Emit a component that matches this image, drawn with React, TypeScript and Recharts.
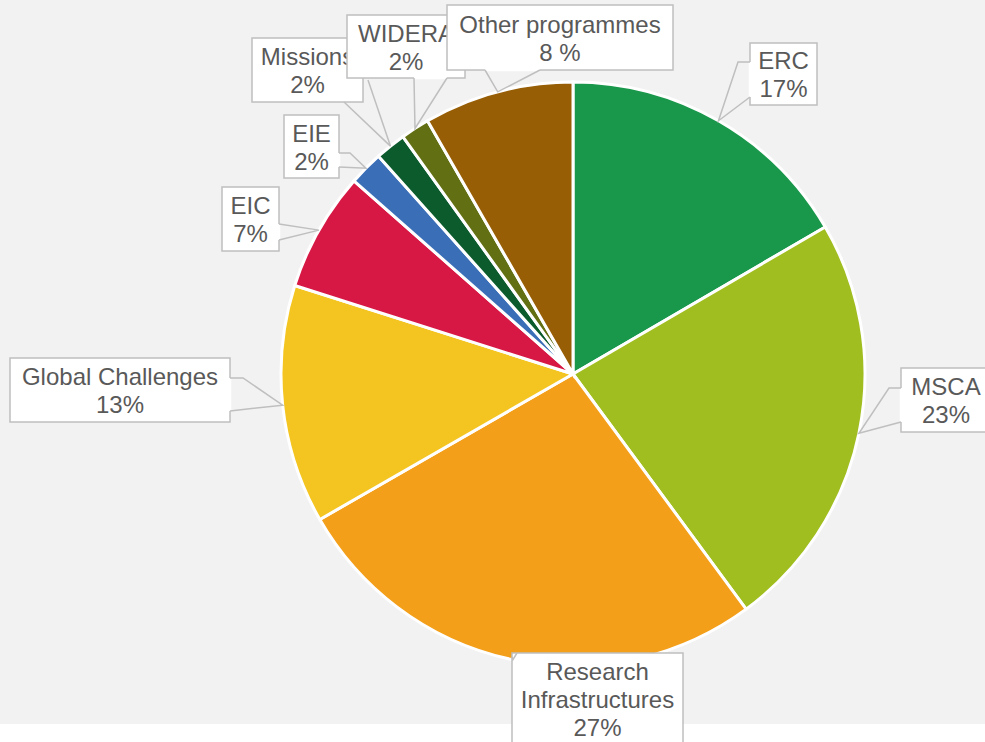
import { PieChart, Pie, Cell } from 'recharts';

const CATEGORIES = [
  'ERC',
  'MSCA',
  'Research Infrastructures',
  'Global Challenges',
  'EIC',
  'EIE',
  'Missions',
  'WIDERA',
  'Other programmes',
];
const SHARES = [16.6, 23.3, 26.8, 13.2, 6.6, 1.9, 1.7, 1.6, 8.3];
const LABEL_LINES = [
  ['ERC', '17%'],
  ['MSCA', '23%'],
  ['Research', 'Infrastructures', '27%'],
  ['Global Challenges', '13%'],
  ['EIC', '7%'],
  ['EIE', '2%'],
  ['Missions', '2%'],
  ['WIDERA', '2%'],
  ['Other programmes', '8 %'],
];
const COLORS = [
  '#19974b',
  '#a0be1f',
  '#f39f19',
  '#f4c520',
  '#d71845',
  '#3a6fb8',
  '#0c5b2c',
  '#627013',
  '#975e06',
];

// callout boxes (x, y, w, h) and the two points where the pointer leaves the box
const CALLOUTS = [
  { box: [750, 43, 67, 62], b1: [750, 62], elbow: [738, 62], b2: [750, 97] },
  { box: [901, 368, 90, 64], b1: [901, 388], elbow: [889, 388], b2: [901, 422] },
  { box: [512, 653, 171, 92], b1: [512, 657], b2: [517, 653] },
  { box: [10, 358, 220, 64], b1: [230, 378], elbow: [243, 378], b2: [230, 411] },
  { box: [222, 187, 57, 64], b1: [279, 224], b2: [279, 240] },
  { box: [284, 115, 55, 63], b1: [339, 153], elbow: [350, 153], b2: [339, 167] },
  { box: [252, 38, 111, 64], b1: [344, 102], b2: [368, 80] },
  { box: [347, 15, 118, 63], b1: [414, 78], b2: [447, 78] },
  { box: [447, 5, 226, 65], b1: [485, 70], b2: [540, 70] },
];

const data = CATEGORIES.map((name, i) => ({ name, value: SHARES[i] }));

const FONT = '"Liberation Sans", Arial, sans-serif';
const FONT_SIZE = 24;
const LINE_H = 28;
const RAD = Math.PI / 180;

function renderCallout(props: any) {
  const { cx, cy, midAngle, outerRadius, index } = props;
  const c = CALLOUTS[index];
  const lines = LABEL_LINES[index];
  const ax = cx + outerRadius * Math.cos(-midAngle * RAD);
  const ay = cy + outerRadius * Math.sin(-midAngle * RAD);
  const [x, y, w, h] = c.box;
  const tx = x + w / 2;
  const ty = y + h / 2;
  const pts = [c.b1, c.elbow, [ax, ay], c.b2].filter(Boolean) as number[][];
  const sameEdge = c.b1[0] === c.b2[0] || c.b1[1] === c.b2[1];

  return (
    <g key={`callout-${index}`}>
      <rect x={x} y={y} width={w} height={h} fill="#ffffff" stroke="#bfbfbf" strokeWidth={1.5} />
      {sameEdge && (
        <line x1={c.b1[0]} y1={c.b1[1]} x2={c.b2[0]} y2={c.b2[1]} stroke="#ffffff" strokeWidth={2.5} />
      )}
      <polyline
        points={pts.map((p) => p.join(',')).join(' ')}
        fill="none"
        stroke="#bfbfbf"
        strokeWidth={1.5}
      />
      <text
        x={tx}
        textAnchor="middle"
        fontFamily={FONT}
        fontSize={FONT_SIZE}
        fill="#595959"
      >
        {lines.map((s, i) => (
          <tspan key={i} x={tx} y={ty + (i - (lines.length - 1) / 2) * LINE_H + FONT_SIZE * 0.38}>
            {s}
          </tspan>
        ))}
      </text>
    </g>
  );
}

export default function App() {
  return (
    <div style={{ position: 'absolute', left: 0, top: 0, width: 985, height: 742, background: '#ffffff' }}>
      <div style={{ position: 'absolute', left: 0, top: 0, width: 985, height: 724, background: '#f2f2f2' }} />
      <div style={{ position: 'absolute', left: 0, top: 0 }}>
        <PieChart width={985} height={742} margin={{ top: 0, right: 0, bottom: 0, left: 0 }}>
          <Pie
            data={data}
            dataKey="value"
            nameKey="name"
            cx={573}
            cy={374}
            outerRadius={292}
            startAngle={90}
            endAngle={-270}
            stroke="#ffffff"
            strokeWidth={3}
            label={renderCallout}
            labelLine={false}
            isAnimationActive={false}
          >
            {data.map((d, i) => (
              <Cell key={d.name} fill={COLORS[i]} />
            ))}
          </Pie>
        </PieChart>
      </div>
    </div>
  );
}
